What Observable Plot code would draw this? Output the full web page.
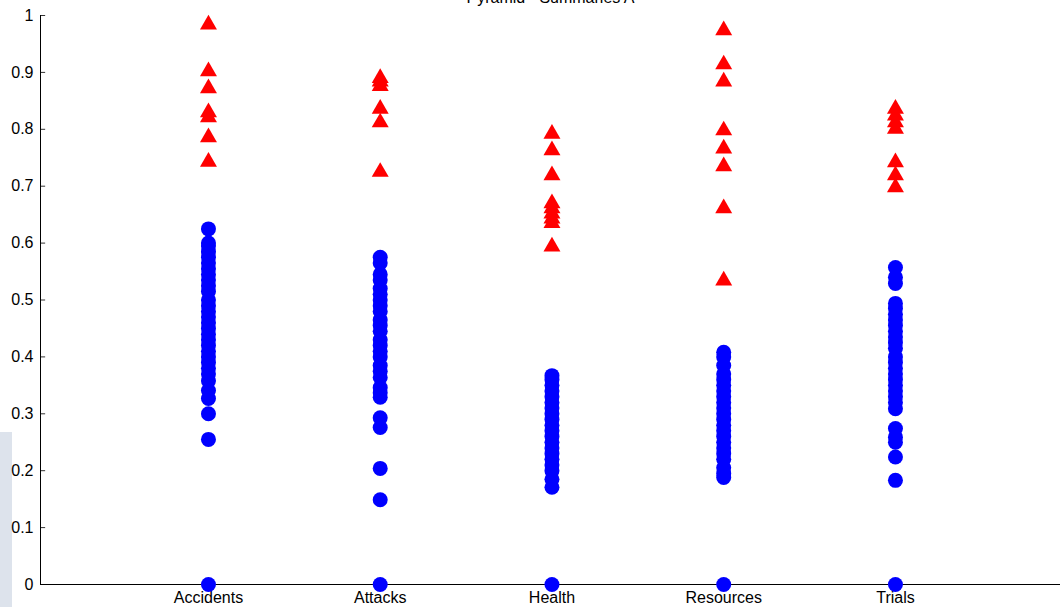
<!DOCTYPE html>
<html>
<head>
<meta charset="utf-8">
<script src="https://cdn.jsdelivr.net/npm/d3@7"></script>
<script src="https://cdn.jsdelivr.net/npm/@observablehq/plot@0.6"></script>
<style>
  body { margin: 0; background: #fff; }
  #chart { position: relative; width: 1060px; height: 607px; overflow: hidden; background: #fff; }
  #chart svg { position: absolute; left: 0; top: 0; }
  #mark { position: absolute; left: 0; top: 432px; width: 12px; height: 175px; background: #dde3ec; }
</style>
</head>
<body>
<div id="chart"><div id="mark"></div></div>
<script>
const title = "Pyramid - Summaries A";
const categories = ["Accidents", "Attacks", "Health", "Resources", "Trials"];
const yTicks = [0, 0.1, 0.2, 0.3, 0.4, 0.5, 0.6, 0.7, 0.8, 0.9, 1];

// blue circles per category
const accidentsCircles = [0.625, 0.60, 0.595, 0.585, 0.575, 0.565, 0.555, 0.545, 0.535, 0.525, 0.515, 0.50, 0.49, 0.48, 0.47, 0.46, 0.45, 0.44, 0.43, 0.42, 0.41, 0.40, 0.39, 0.38, 0.37, 0.358, 0.341, 0.327, 0.30, 0.255, 0];
const attacksCircles = [0.575, 0.565, 0.545, 0.535, 0.52, 0.51, 0.50, 0.49, 0.48, 0.465, 0.455, 0.445, 0.43, 0.42, 0.41, 0.40, 0.385, 0.375, 0.364, 0.346, 0.337, 0.329, 0.293, 0.276, 0.204, 0.149, 0];
const healthCircles = [0.367, 0.36, 0.35, 0.34, 0.33, 0.32, 0.31, 0.30, 0.29, 0.28, 0.27, 0.26, 0.25, 0.24, 0.23, 0.22, 0.21, 0.20, 0.185, 0.171, 0];
const resourcesCircles = [0.408, 0.40, 0.385, 0.37, 0.36, 0.35, 0.34, 0.33, 0.32, 0.31, 0.30, 0.29, 0.28, 0.27, 0.26, 0.25, 0.24, 0.23, 0.22, 0.205, 0.195, 0.188, 0];
const trialsCircles = [0.557, 0.540, 0.529, 0.494, 0.485, 0.475, 0.465, 0.455, 0.445, 0.435, 0.425, 0.415, 0.40, 0.39, 0.38, 0.37, 0.36, 0.35, 0.34, 0.33, 0.32, 0.309, 0.274, 0.259, 0.250, 0.224, 0.183, 0];

// red triangles per category
const accidentsTriangles = [0.984, 0.902, 0.872, 0.830, 0.821, 0.786, 0.743];
const attacksTriangles = [0.890, 0.884, 0.876, 0.836, 0.812, 0.725];
const healthTriangles = [0.792, 0.763, 0.719, 0.670, 0.661, 0.652, 0.643, 0.635, 0.594];
const resourcesTriangles = [0.974, 0.914, 0.884, 0.798, 0.766, 0.735, 0.661, 0.534];
const trialsTriangles = [0.836, 0.824, 0.812, 0.801, 0.742, 0.719, 0.698];

const circleSeries = [accidentsCircles, attacksCircles, healthCircles, resourcesCircles, trialsCircles];
const triangleSeries = [accidentsTriangles, attacksTriangles, healthTriangles, resourcesTriangles, trialsTriangles];

const circleRows = [];
const triangleRows = [];
categories.forEach((c, i) => {
  circleSeries[i].forEach(v => circleRows.push({pos: i + 1, category: c, value: v}));
  triangleSeries[i].forEach(v => triangleRows.push({pos: i + 1, category: c, value: v}));
});
const positions = categories.map((c, i) => i + 1);
const xDomain = [0.022, 5.961];
const yTickLen = 0.03;   // inward tick length in x units
const xTickLen = 0.01;   // inward tick length in y units

const chart = Plot.plot({
  width: 1060,
  height: 607,
  marginLeft: 40,
  marginRight: 0,
  marginTop: 15,
  marginBottom: 23,
  style: {fontFamily: "'Liberation Sans', Arial, Helvetica, sans-serif", fontSize: "16px", color: "#000", background: "transparent", overflow: "visible"},
  x: {domain: xDomain, label: null},
  y: {domain: [0, 1], label: null},
  marks: [
    Plot.ruleY(yTicks, {x1: xDomain[0], x2: xDomain[0] + yTickLen, y: d => d, stroke: "#333", strokeWidth: 1}),
    Plot.ruleX(positions, {y1: 0, y2: xTickLen, x: d => d, stroke: "#333", strokeWidth: 1}),
    Plot.ruleY([0], {stroke: "#000", strokeWidth: 1}),
    Plot.ruleX([xDomain[0]], {stroke: "#000", strokeWidth: 1}),
    Plot.axisY(yTicks, {label: null, tickSize: 0, tickPadding: 7, tickFormat: d => String(d), fontSize: 16}),
    Plot.axisX(positions, {label: null, tickSize: 0, tickPadding: 7, tickFormat: d => categories[d - 1], fontSize: 16}),
    Plot.dot(circleRows, {x: "pos", y: "value", r: 7.5, fill: "#0000ff", stroke: null}),
    Plot.dot(triangleRows, {x: "pos", y: "value", r: 6.3, symbol: "triangle", fill: "#ff0000", stroke: null}),
    Plot.text([title], {frameAnchor: "top", lineAnchor: "bottom", dy: -13, fontSize: 16, fill: "#000"})
  ]
});
document.getElementById("chart").appendChild(chart);
</script>
</body>
</html>
